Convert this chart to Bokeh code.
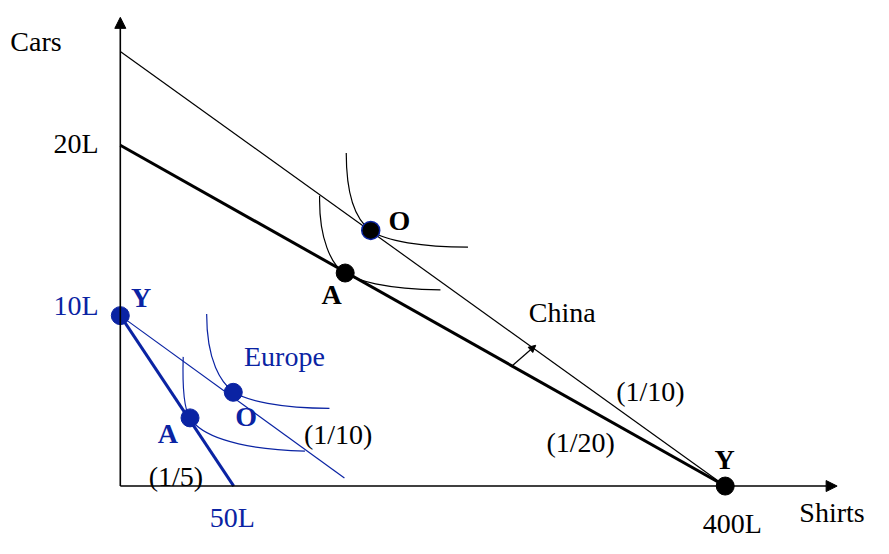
from bokeh.plotting import figure
from bokeh.models import Range1d, Arrow, NormalHead
from bokeh.core.properties import value
from bokeh.embed import file_html
from bokeh.resources import INLINE

# ---------------- data (shirts on x, cars on y, in "L" units; schematic) ----------------
china_ppf_x = [0, 400]
china_ppf_y = [20, 0]
china_trade_x = [0, 400]
china_trade_y = [25.5, 0]
europe_ppf_x = [0, 75]
europe_ppf_y = [10, 0]
europe_trade_x = [0, 148.2]
europe_trade_y = [10, 0.47]

china_pts_x = [148.7, 400]        # A, Y
china_pts_y = [12.5, 0]
china_O = (165.6, 15.0)
europe_pts_x = [0, 74.7, 46.1]     # Y, O, A
europe_pts_y = [10, 5.5, 4.0]

# indifference curves as cubic Bezier segments: (x0, y0, cx0, cy0, cx1, cy1, x1, y1)
china_ic = [
    (149.4, 19.54, 149.4, 17.09, 155.8, 15.61, 165.6, 14.99),
    (165.6, 14.99, 175.3, 14.36, 200.0, 14.02, 229.9, 14.02),
    (131.8, 17.04, 131.2, 14.53, 139.6, 12.93, 148.7, 12.48),
    (148.7, 12.48, 155.8, 12.08, 174.0, 11.57, 211.7, 11.51),
]
europe_ic = [
    (57.1, 10.09, 57.1, 7.29, 66.9, 6.04, 74.7, 5.53),
    (74.7, 5.53, 83.1, 5.01, 105.8, 4.56, 138.3, 4.56),
    (41.6, 7.58, 40.9, 5.58, 42.2, 4.50, 46.1, 3.99),
    (46.1, 3.99, 52.6, 3.08, 73.4, 2.17, 122.1, 2.05),
]
china_shift = (258.4, 7.0, 274.7, 8.26)
x_axis_end = 474
y_axis_end = 27.5

BLUE = "#0a23a3"
BLACK = "#000000"
FONT = "Liberation Serif"

# labels: text, x, y (data units, baseline-left anchor), color, bold, align
labels = [
    ("Cars", -72.7, 25.5, BLACK, False, "left"),
    ("20L", -14.3, 19.5, BLACK, False, "right"),
    ("10L", -14.3, 10.0, BLUE, False, "right"),
    ("Y", 7.1, 10.5, BLUE, True, "left"),
    ("Europe", 81.8, 7.0, BLUE, False, "left"),
    ("O", 76.0, 3.5, BLUE, True, "left"),
    ("A", 24.7, 2.5, BLUE, True, "left"),
    ("(1/10)", 121.4, 2.45, BLACK, False, "left"),
    ("(1/5)", 18.8, 0.0, BLACK, False, "left"),
    ("50L", 59.1, -2.45, BLUE, False, "left"),
    ("O", 177.3, 15.0, BLACK, True, "left"),
    ("A", 133.1, 10.66, BLACK, True, "left"),
    ("China", 270.1, 9.57, BLACK, False, "left"),
    ("(1/10)", 327.9, 4.96, BLACK, False, "left"),
    ("(1/20)", 281.8, 1.99, BLACK, False, "left"),
    ("Y", 392.9, 0.97, BLACK, True, "left"),
    ("400L", 385.1, -2.8, BLACK, False, "left"),
    ("Shirts", 449.0, -2.11, BLACK, False, "left"),
]

# ---------------- figure ----------------
W, H = 873, 538
p = figure(width=W, height=H, output_backend="svg", toolbar_location=None,
           x_range=Range1d(-79.22, 498.05),
           y_range=Range1d(-3.077, 28.49),
           min_border=0, outline_line_color=None)
p.xaxis.visible = False
p.yaxis.visible = False
p.grid.visible = False
p.background_fill_color = "white"

sy = H / (28.49 + 3.077)          # pixels per car unit
BASELINE_FIX = 10.0 / sy          # svg text sits ~10px low with 'alphabetic'

# axes with arrows
p.add_layout(Arrow(end=NormalHead(size=11, fill_color=BLACK, line_color=BLACK),
                   x_start=0, y_start=0, x_end=0, y_end=y_axis_end, line_width=1.6, line_color=BLACK))
p.add_layout(Arrow(end=NormalHead(size=11, fill_color=BLACK, line_color=BLACK),
                   x_start=0, y_start=0, x_end=x_axis_end, y_end=0, line_width=1.6, line_color=BLACK))

# China
p.line(china_trade_x, china_trade_y, line_color=BLACK, line_width=1.2)
p.line(china_ppf_x, china_ppf_y, line_color=BLACK, line_width=3)
for seg in china_ic:
    p.bezier(x0=seg[0], y0=seg[1], cx0=seg[2], cy0=seg[3], cx1=seg[4], cy1=seg[5],
             x1=seg[6], y1=seg[7], line_color=BLACK, line_width=1.2)
p.add_layout(Arrow(end=NormalHead(size=7, fill_color=BLACK, line_color=BLACK),
                   x_start=china_shift[0], y_start=china_shift[1],
                   x_end=china_shift[2], y_end=china_shift[3], line_width=1.2, line_color=BLACK))

# Europe
p.line(europe_trade_x, europe_trade_y, line_color=BLUE, line_width=1.2)
p.line(europe_ppf_x, europe_ppf_y, line_color=BLUE, line_width=3)
for seg in europe_ic:
    p.bezier(x0=seg[0], y0=seg[1], cx0=seg[2], cy0=seg[3], cx1=seg[4], cy1=seg[5],
             x1=seg[6], y1=seg[7], line_color=BLUE, line_width=1.2)

# points
p.scatter(china_pts_x, china_pts_y, size=18, fill_color=BLACK, line_color=BLACK)
p.scatter([china_O[0]], [china_O[1]], size=18, fill_color=BLACK, line_color=BLUE, line_width=1.5)
p.scatter(europe_pts_x, europe_pts_y, size=18, fill_color=BLUE, line_color=BLUE)

# labels
for txt, x, y, col, bold, align in labels:
    p.text(x=[x], y=[y + BASELINE_FIX], text=[txt], text_color=col, text_font=value(FONT),
           text_font_size="28px", text_font_style="bold" if bold else "normal",
           text_align=align, text_baseline="alphabetic")

open("out.html", "w").write(file_html(p, INLINE))
